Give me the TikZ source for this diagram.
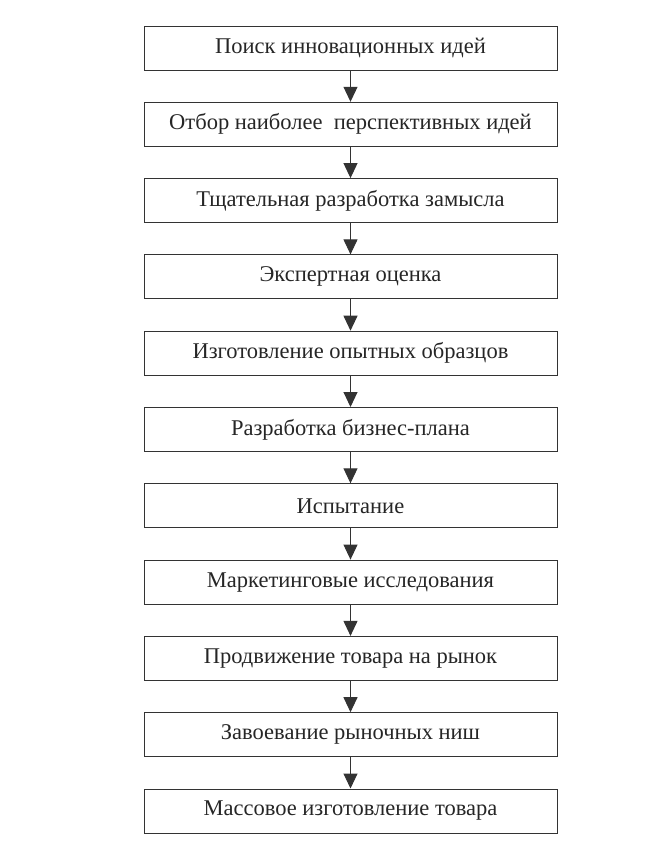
\documentclass[tikz,border=0pt]{standalone}
\usepackage{fontspec}
\setmainfont{Liberation Serif}
\usetikzlibrary{positioning,arrows.meta}
\begin{document}
\begin{tikzpicture}[x=1pt,y=1pt,
    stage/.style={draw=black!80,line width=1pt,minimum width=413pt,
      minimum height=44pt,inner sep=0pt,text=black!85,
      font=\fontsize{22.5}{26}\selectfont},
    flow/.style={-{Triangle[length=15pt,width=14pt]},line width=1pt,black!80},
    node distance=31.3pt]
  \useasboundingbox (0,0) rectangle (654,-846);
  % --- stages of the innovation process
  \node[stage] (s1) at (350.5,-48) {Поиск инновационных идей};
  \node[stage,below=of s1] (s2) {Отбор наиболее\ \ перспективных идей};
  \node[stage,below=of s2] (s3) {Тщательная разработка замысла};
  \node[stage,below=of s3] (s4) {Экспертная оценка};
  \node[stage,below=of s4] (s5) {Изготовление опытных образцов};
  \node[stage,below=of s5] (s6) {Разработка бизнес-плана};
  \node[stage,below=of s6] (s7) {Испытание};
  \node[stage,below=of s7] (s8) {Маркетинговые исследования};
  \node[stage,below=of s8] (s9) {Продвижение товара на рынок};
  \node[stage,below=of s9] (s10) {Завоевание рыночных ниш};
  \node[stage,below=of s10] (s11) {Массовое изготовление товара};
  % --- arrows between stages
  \foreach \i [evaluate=\i as \j using int(\i+1)] in {1,...,10}
    \draw[flow] (s\i) -- (s\j);
\end{tikzpicture}
\end{document}
